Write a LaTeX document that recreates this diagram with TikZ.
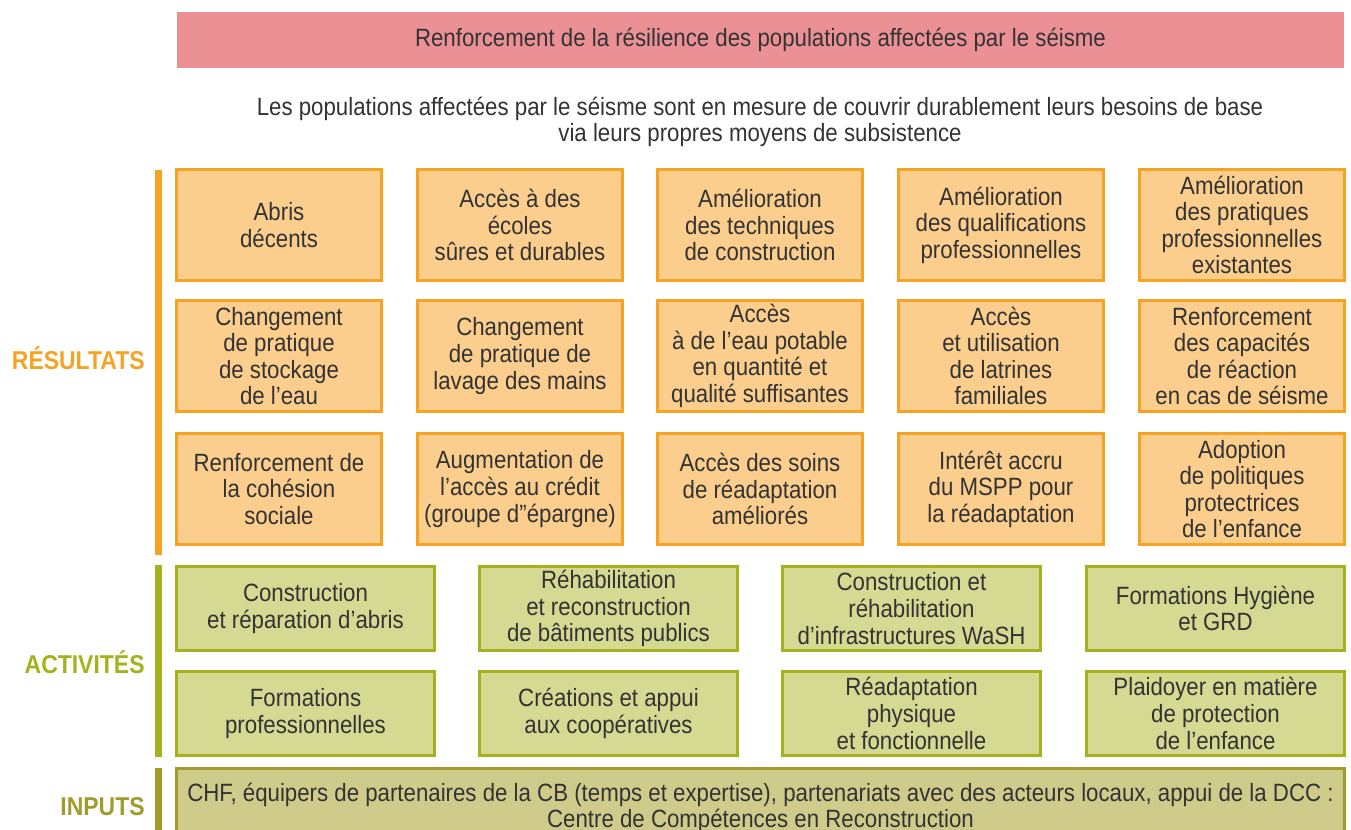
\documentclass[tikz,border=0pt]{standalone}
\usepackage{fontspec}
\setmainfont[FakeStretch=0.89]{Liberation Sans}
\definecolor{pinkf}{HTML}{EB9196}
\definecolor{orf}{HTML}{FBCE8D}
\definecolor{ord}{HTML}{F6A323}
\definecolor{grf}{HTML}{D5DA93}
\definecolor{grd}{HTML}{A6B11E}
\definecolor{inf}{HTML}{CFCC8B}
\definecolor{ind}{HTML}{A09B2C}
\definecolor{txt}{HTML}{333333}
\tikzset{
  bodyfont/.style={font=\fontsize{12.5}{13.3}\selectfont, text=txt},
  obox/.style={bodyfont, draw=ord, fill=orf, line width=1.5pt, minimum width=102.5pt, minimum height=55.5pt, align=center, inner sep=0pt},
  gbox/.style={bodyfont, draw=grd, fill=grf, line width=1.5pt, minimum width=129pt, minimum height=42pt, align=center, inner sep=0pt},
  lbl/.style={font=\bfseries\fontsize{12.9}{14}\selectfont, anchor=east, inner sep=0pt},
  vbar/.style={line width=3.5pt}
}
\begin{document}
\begin{tikzpicture}[x=0.5pt,y=-0.5pt]
\useasboundingbox (0,0) rectangle (1351,830);
\clip (0,0) rectangle (1351,830);
% top
\node[bodyfont, fill=pinkf, minimum width=583.5pt, minimum height=28pt, inner sep=0pt] (goal) at (760.5,40) {\raisebox{-1.2pt}{Renforcement de la résilience des populations affectées par le séisme}};
\node[bodyfont, align=center, inner sep=0pt] (obj) at (760,122) {Les populations affectées par le séisme sont en mesure de couvrir durablement leurs besoins de base\\via leurs propres moyens de subsistence};
% bars
\draw[vbar, draw=ord] (158.5,170) -- (158.5,555);
\draw[vbar, draw=grd] (158.5,565) -- (158.5,757);
\draw[vbar, draw=ind] (158.5,768) -- (158.5,835);
% labels
\node[lbl, text=ord] (res) at (145,358) {RÉSULTATS};
\node[lbl, text=grd] (act) at (145,662) {ACTIVITÉS};
\node[lbl, text=ind] (inp) at (145,807) {INPUTS};
% results row 1
\node[obox] (r11) at (279,225) {Abris\\décents};
\node[obox] (r12) at (520,225) {Accès à des\\écoles\\sûres et durables};
\node[obox] (r13) at (760,225) {Amélioration\\des techniques\\de construction};
\node[obox] (r14) at (1001,225) {Amélioration\\des qualifications\\professionnelles};
\node[obox] (r15) at (1242,225) {Amélioration\\des pratiques\\professionnelles\\existantes};
% row 2
\node[obox] (r21) at (279,356) {Changement\\de pratique\\de stockage\\de l'eau};
\node[obox] (r22) at (520,356) {Changement\\de pratique de\\lavage des mains};
\node[obox] (r23) at (760,356) {Accès\\à de l'eau potable\\en quantité et\\qualité suffisantes};
\node[obox] (r24) at (1001,356) {Accès\\et utilisation\\de latrines\\familiales};
\node[obox] (r25) at (1242,356) {Renforcement\\des capacités\\de réaction\\en cas de séisme};
% row 3
\node[obox] (r31) at (279,489) {Renforcement de\\la cohésion\\sociale};
\node[obox] (r32) at (520,489) {Augmentation de\\l'accès au crédit\\(groupe d''épargne)};
\node[obox] (r33) at (760,489) {Accès des soins\\de réadaptation\\améliorés};
\node[obox] (r34) at (1001,489) {Intérêt accru\\du MSPP pour\\la réadaptation};
\node[obox] (r35) at (1242,489) {Adoption\\de politiques\\protectrices\\de l'enfance};
% activities
\node[gbox] (a11) at (305.5,608.5) {Construction\\et réparation d'abris};
\node[gbox] (a12) at (608.5,608.5) {Réhabilitation\\et reconstruction\\de bâtiments publics};
\node[gbox] (a13) at (911.5,608.5) {Construction et\\réhabilitation\\d'infrastructures WaSH};
\node[gbox] (a14) at (1215.5,608.5) {Formations Hygiène\\et GRD};
\node[gbox] (a21) at (305.5,713.5) {Formations\\professionnelles};
\node[gbox] (a22) at (608.5,713.5) {Créations et appui\\aux coopératives};
\node[gbox] (a23) at (911.5,713.5) {Réadaptation\\physique\\et fonctionnelle};
\node[gbox] (a24) at (1215.5,713.5) {Plaidoyer en matière\\de protection\\de l'enfance};
% inputs
\node[bodyfont, draw=ind, fill=inf, line width=1.5pt, minimum width=584pt, minimum height=40pt, align=center, inner sep=0pt] (inputs) at (760.5,808) {CHF, équipers de partenaires de la CB (temps et expertise), partenariats avec des acteurs locaux, appui de la DCC :\\Centre de Compétences en Reconstruction};
\end{tikzpicture}
\end{document}
